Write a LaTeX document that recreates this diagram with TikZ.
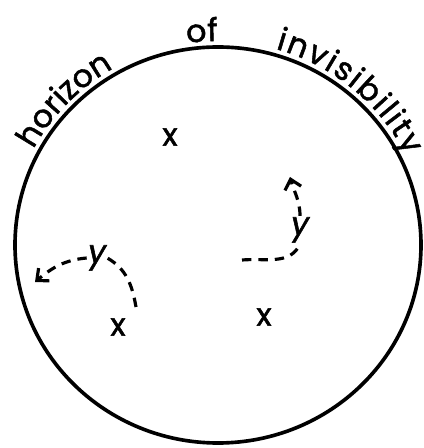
\documentclass[tikz,border=0pt]{standalone}
\usepackage{fontspec}
\newfontfamily\drawfont[FakeBold=1.6, AutoFakeBold=1.6]{Poppins}
\newcommand{\arcfont}{\drawfont\bfseries\fontsize{27}{30}\selectfont}
\usetikzlibrary{positioning, calc, arrows.meta, decorations.text}

\begin{document}
\begin{tikzpicture}[
  x=0.03cm, y=0.03cm,
  >={Straight Barb[length=2.8mm, width=5mm]},
  horizon/.style = {line width=3.1pt},
  motion/.style  = {line width=2.7pt, dash pattern=on 8pt off 6pt, line cap=butt},
  objlabel/.style = {font=\arcfont, inner sep=0pt},
  movelabel/.style = {font=\arcfont\itshape, inner sep=1pt},
  arctext/.style = {decorate, decoration={text along path, text={|\arcfont|#1},
                    text align={fit to path}}},
]
  \useasboundingbox (0,0) rectangle (424,448);

  \coordinate (c) at (218,203);
  \draw[horizon] (c) ellipse [x radius=203, y radius=198];

  % words round the top of the circle
  \path[arctext=horizon]      ($(c)+(152:209 and 204)$)  arc[start angle=152,  end angle=120, x radius=209, y radius=204];
  \path[arctext=of]           ($(c)+(98.5:209 and 204)$) arc[start angle=98.5, end angle=90,  x radius=209, y radius=204];
  \path[arctext=invisibility] ($(c)+(74:209 and 204)$)   arc[start angle=74,   end angle=26,  x radius=209, y radius=204];

  \node[objlabel] (xtop)   at (170,311) {x};
  \node[objlabel] (xleft)  at (118,121) {x};
  \node[objlabel] (xright) at (264,131) {x};

  \node[movelabel] (yleft)  at (97,190)  {y};
  \node[movelabel] (yright) at (300,218) {y};

  \coordinate (lstart) at (136,141);
  \coordinate (lend)   at (35,166);
  \coordinate (rstart) at (242,188);
  \coordinate (rend)   at (290,271);

  \draw[motion]     (lstart) to[out=100, in=-30] (yleft.east);
  \draw[motion, ->] (yleft.west) to[out=185, in=40] (lend);
  \draw[motion]     (rstart) to[out=5, in=-115] (yright.south);
  \draw[motion, ->] (yright.north) to[out=90, in=-75] (rend);
\end{tikzpicture}
\end{document}
